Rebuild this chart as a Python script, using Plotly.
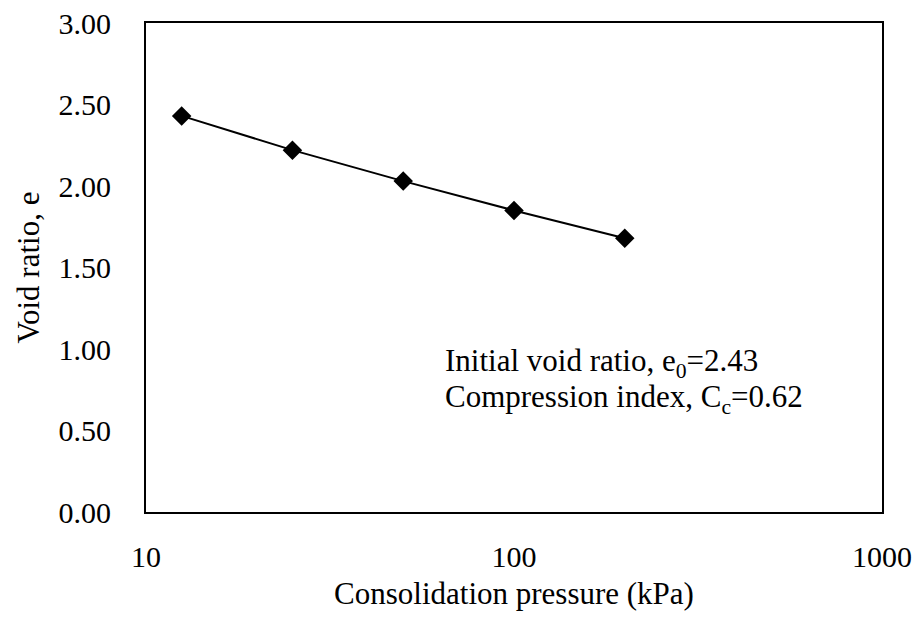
import plotly.graph_objects as go

pressure = [12.5, 25, 50, 100, 200]
void_ratio = [2.43, 2.22, 2.03, 1.85, 1.68]
x_ticks = [10, 100, 1000]
x_tick_labels = ["10", "100", "1000"]
y_ticks = [0, 0.5, 1.0, 1.5, 2.0, 2.5, 3.0]
note_lines = ["Initial void ratio, e<sub>0</sub>=2.43", "Compression index, C<sub>c</sub>=0.62"]

FONT = "Liberation Serif"
FS = 30

fig = go.Figure()
fig.add_trace(go.Scatter(
    x=pressure, y=void_ratio, mode="lines+markers",
    line=dict(color="black", width=2),
    marker=dict(symbol="diamond", size=15, color="black"),
    showlegend=False,
))

for text, ypos in zip(note_lines, [0.3047, 0.2311]):
    fig.add_annotation(
        x=0.403, y=ypos, xref="paper", yref="paper",
        text=text, showarrow=False,
        xanchor="left", yanchor="middle", align="left",
        font=dict(family=FONT, size=31, color="black"),
    )

fig.update_layout(
    width=921, height=633,
    margin=dict(l=138, r=47, t=15, b=129),
    paper_bgcolor="white", plot_bgcolor="white",
    font=dict(family=FONT, size=FS, color="black"),
    xaxis=dict(
        type="log", range=[1, 3], tickvals=x_ticks, ticktext=x_tick_labels,
        showgrid=False, zeroline=False, showline=True, linecolor="black",
        linewidth=2, mirror=True, ticks="", ticklabelstandoff=17,
        automargin=False, ticklabeloverflow="allow",
        tickfont=dict(family=FONT, size=FS),
        title=dict(text="Consolidation pressure (kPa)", standoff=10,
                   font=dict(family=FONT, size=31)),
    ),
    yaxis=dict(
        range=[0, 3], tickvals=y_ticks, tickformat=".2f",
        showgrid=False, zeroline=False, showline=True, linecolor="black",
        linewidth=2, mirror=True, ticks="", ticklabelstandoff=27,
        automargin=False, ticklabeloverflow="allow",
        tickfont=dict(family=FONT, size=FS),
        title=dict(text="Void ratio, e", standoff=10,
                   font=dict(family=FONT, size=31)),
    ),
)

fig.write_html("out.html")
